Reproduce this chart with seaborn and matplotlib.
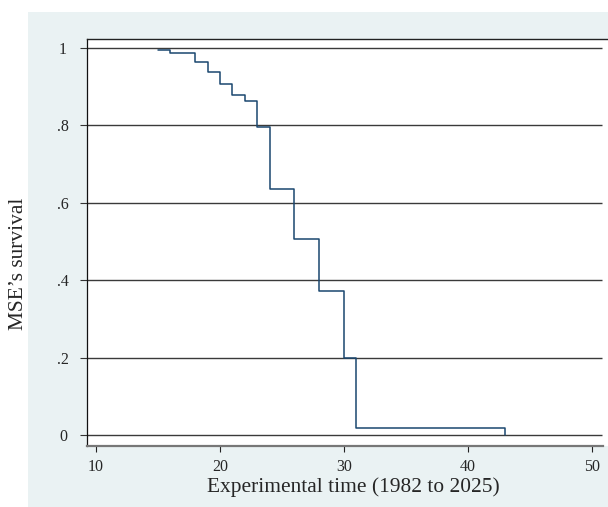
import matplotlib
matplotlib.use("Agg")
import matplotlib.pyplot as plt
import seaborn as sns
import pandas as pd
from matplotlib.patches import Rectangle

# Data (step function: survival estimate after each time point)
times = [15, 16, 18, 19, 20, 21, 22, 23, 24, 26, 28, 30, 31, 43]
survival = [0.994, 0.986, 0.964, 0.939, 0.906, 0.879, 0.863, 0.797, 0.635, 0.506, 0.371, 0.198, 0.019, 0.0]
x_ticks = [10, 20, 30, 40, 50]
y_ticks = [0, 0.2, 0.4, 0.6, 0.8, 1.0]
y_tick_labels = ["0", ".2", ".4", ".6", ".8", "1"]

df = pd.DataFrame({"time": times, "survival": survival})

sns.set_theme(style="white")
plt.rcParams["font.family"] = ["Liberation Serif", "DejaVu Serif"]

W, H = 608, 507
fig = plt.figure(figsize=(W / 100, H / 100), dpi=100)
fig.patch.set_facecolor("white")
bg = "#EAF2F3"
fig.patches.append(Rectangle((28 / W, 0), 1 - 28 / W, 1 - 12 / H,
                             transform=fig.transFigure, facecolor=bg,
                             edgecolor="none", zorder=-10))

left_px, right_px, top_px, bot_px = 87, 612, 39, 446
ax_w, ax_h = right_px - left_px, bot_px - top_px
ax = fig.add_axes([left_px / W, 1 - bot_px / H, ax_w / W, ax_h / H])
ax.set_facecolor("white")

xmin, xmax = 9.274, 51.61
ymin, ymax = -0.0284, 1.0233
ax.set_xlim(xmin, xmax)
ax.set_ylim(ymin, ymax)

line_color = "#1a476f"
sns.lineplot(data=df, x="time", y="survival", drawstyle="steps-post",
             color=line_color, linewidth=1.1, ax=ax, zorder=3)

grid_end = 50.81
ax.hlines(y_ticks, xmin, grid_end, colors="#3a3a3a", linewidth=1.0, zorder=1)

ax.set_xticks(x_ticks)
ax.set_xticklabels([str(v) for v in x_ticks])
ax.set_yticks(y_ticks)
ax.set_yticklabels(y_tick_labels)
ax.tick_params(axis="y", direction="out", length=5, width=0.8, color="#333333",
               pad=12.2, labelsize=11.5, left=True)
ax.tick_params(axis="x", direction="out", length=4.5, width=0.8, color="#222222",
               pad=5, labelsize=11.5, bottom=True)
for lbl in ax.get_yticklabels():
    lbl.set_horizontalalignment("center")

ax.spines["right"].set_visible(False)
ax.spines["top"].set_color("#222222")
ax.spines["top"].set_linewidth(1.0)
ax.spines["left"].set_color("#111111")
ax.spines["left"].set_linewidth(0.9)
ax.spines["bottom"].set_color("#777777")
ax.spines["bottom"].set_linewidth(1.6)
ax.spines["bottom"].set_bounds(xmin, 50.89)

ax.set_xlabel("Experimental time (1982 to 2025)", fontsize=15.4)
ax.set_ylabel("MSE\u2019s survival", fontsize=15.4)
ax.yaxis.set_label_coords(-(left_px - 18.5) / ax_w, (bot_px - 264) / ax_h)
ax.xaxis.set_label_coords((353 - left_px) / ax_w, -(487 - bot_px) / ax_h)
ax.xaxis.label.set_va("center")
ax.yaxis.label.set_va("center")

fig.savefig("out.png", dpi=100)
